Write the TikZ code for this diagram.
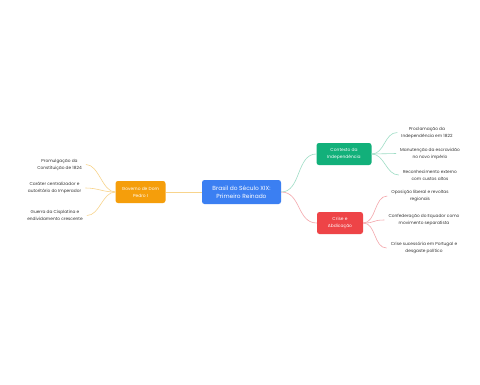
\documentclass[tikz,border=0pt]{standalone}
\usepackage{fontspec}
\setmainfont{Poppins}
\usetikzlibrary{arrows.meta}
\definecolor{rootblue}{HTML}{3B7FF2}
\definecolor{brorange}{HTML}{F59E0B}
\definecolor{brgreen}{HTML}{12B07A}
\definecolor{brred}{HTML}{EE4447}
\definecolor{lnorange}{HTML}{F8D48C}
\definecolor{lngreen}{HTML}{9FDDC6}
\definecolor{lnred}{HTML}{F4A6AB}
\definecolor{leafgray}{HTML}{333333}

\tikzset{
  rootbox/.style={fill=rootblue, text=white, rounded corners=2.5pt, align=center,
    minimum width=79pt, minimum height=24pt, font=\fontsize{5.9}{8.5}\selectfont},
  branchbox/.style={fill=#1, text=white, rounded corners=2.5pt, align=center,
    minimum height=22pt, font=\fontsize{4.4}{7}\selectfont},
  leaftext/.style={align=center, text=leafgray, inner sep=4pt,
    font=\fontsize{4.3}{7}\selectfont},
  link/.style={draw=#1, line width=0.6pt}
}

\begin{document}
\begin{tikzpicture}[x=1pt, y=-1pt]

  \useasboundingbox[fill=white] (0,0) rectangle (480,384);

  % -- topic and main branches ---------------------------------------------
  \node[rootbox] (root) at (241.5,192) {Brasil do Século XIX:\\Primeiro Reinado};
  \node[branchbox=brorange, minimum width=50pt] (gov) at (140.5,192) {Governo de Dom\\Pedro I};
  \node[branchbox=brgreen, minimum width=55pt] (ctx) at (344,154) {Contexto da\\Independência};
  \node[branchbox=brred, minimum width=46pt] (crise) at (340,223) {Crise e\\Abdicação};

  % -- leaves --------------------------------------------------------------
  \node[leaftext] (gov1) at (59.5,164.5) {Promulgação da\\Constituição de 1824};
  \node[leaftext] (gov2) at (54.5,188) {Caráter centralizador e\\autoritário do Imperador};
  \node[leaftext] (gov3) at (55,215.5) {Guerra da Cisplatina e\\endividamento crescente};

  \node[leaftext] (ctx1) at (427,132.5) {Proclamação da\\Independência em 1822};
  \node[leaftext] (ctx2) at (430,153.5) {Manutenção da escravidão\\no novo império};
  \node[leaftext] (ctx3) at (430,175) {Reconhecimento externo\\com custos altos};

  \node[leaftext] (crise1) at (420,196) {Oposição liberal e revoltas\\regionais};
  \node[leaftext] (crise2) at (424,220) {Confederação do Equador como\\movimento separatista};
  \node[leaftext] (crise3) at (424,248) {Crise sucessória em Portugal e\\desgaste político};

  % -- connectors ----------------------------------------------------------
  \draw[link=lnorange] (root.west) -- (gov.east);
  \draw[link=lngreen] (root.east) .. controls +(20,0) and +(-20,0) .. (ctx.west);
  \draw[link=lnred] (root.east) .. controls +(20,0) and +(-20,0) .. (crise.west);

  \foreach \leaf in {gov1,gov2,gov3}
    \draw[link=lnorange] (gov.west) .. controls +(-13,0) and +(13,0) .. (\leaf.east);
  \foreach \leaf in {ctx1,ctx2,ctx3}
    \draw[link=lngreen] (ctx.east) .. controls +(13,0) and +(-13,0) .. (\leaf.west);
  \foreach \leaf in {crise1,crise2,crise3}
    \draw[link=lnred] (crise.east) .. controls +(13,0) and +(-13,0) .. (\leaf.west);

\end{tikzpicture}
\end{document}
